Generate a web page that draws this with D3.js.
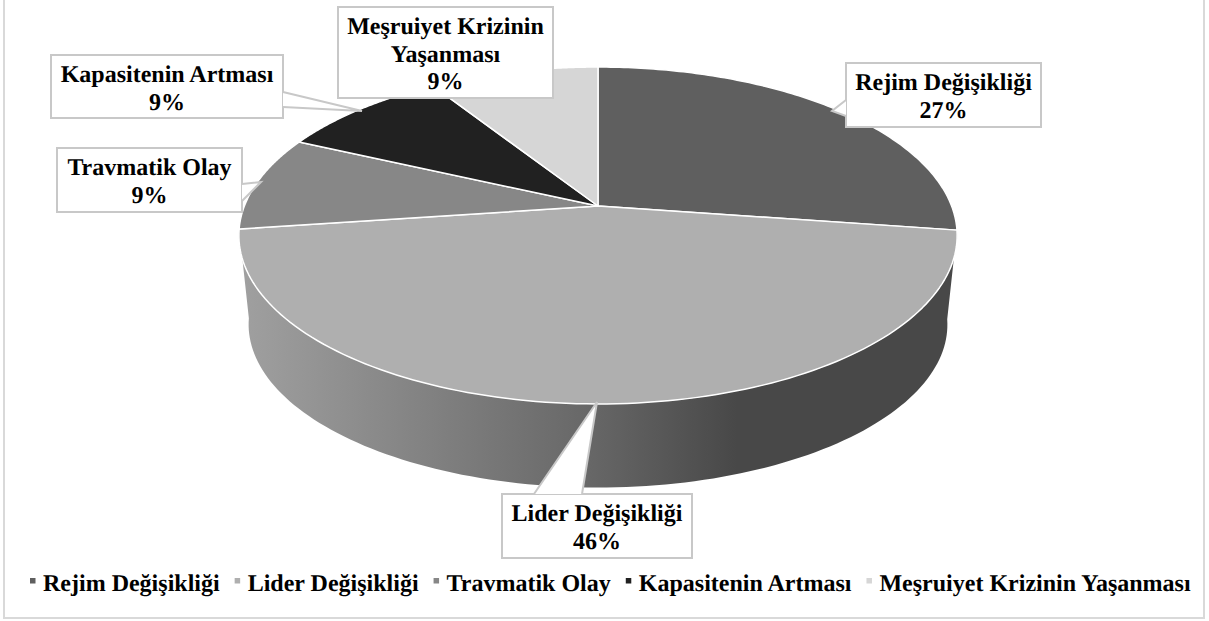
<!DOCTYPE html>
<html><head><meta charset="utf-8">
<script src="https://cdn.jsdelivr.net/npm/d3@7"></script>
<style>html,body{margin:0;padding:0;background:#fff;overflow:hidden}
text{font-family:"Liberation Serif",serif;font-weight:700;fill:#000;text-rendering:geometricPrecision}</style></head>
<body><svg id="c" width="1209" height="621"></svg>
<script>
const categories = ["Rejim Değişikliği","Lider Değişikliği","Travmatik Olay","Kapasitenin Artması","Meşruiyet Krizinin Yaşanması"];
const values = [27.3,45.5,9.1,9.1,9.0];
const colors = ["#5f5f5f","#afafaf","#878787","#212121","#d6d6d6"];
const labelLines = [["Rejim Değişikliği"],["Lider Değişikliği"],["Travmatik Olay"],["Kapasitenin Artması"],["Meşruiyet Krizinin","Yaşanması"]];
// callout layout: box x,y,w,h ; tail polygon ; first baseline
const callouts = [
 {box:[846,63,195,64],tail:[[846,100],[832,111],[846,116]],base:90},
 {box:[502,494,190,64],tail:[[534,494],[597,402],[582,494]],base:521},
 {box:[57,148,185,64],tail:[[242,184],[261,182],[242,201]],base:175},
 {box:[51,55,232,63],tail:[[283,92],[362,111],[283,107]],base:82},
 {box:[338,7,215,91],tail:null,base:34}
];
const svg = d3.select("#c");
const defs = svg.append("defs");
const grad = defs.append("linearGradient").attr("id","wall").attr("gradientUnits","userSpaceOnUse")
  .attr("x1",240).attr("x2",960).attr("y1",0).attr("y2",0);
[[0,"#a0a0a0"],[0.479,"#686868"],[0.69,"#484848"],[1,"#484848"]].forEach(s=>grad.append("stop").attr("offset",s[0]).attr("stop-color",s[1]));

svg.append("rect").attr("x",4).attr("y",-6).attr("width",1200).attr("height",624)
  .attr("fill","#fff").attr("stroke","#d9d9d9").attr("stroke-width",2);

// perspective projection of the pie disc
const K=0.175, CX=598;
function proj(a,R,Ry,Y0){const u=Math.sin(a),v=-Math.cos(a),w=1-K*v;return [CX+R*u/w,Y0+Ry*v/w];}
const top_=a=>proj(a,353.6,163.3,206);
const bot_=a=>proj(a,344,158,296);
const line=d3.line();
const pie=d3.pie().sort(null).startAngle(0).endAngle(2*Math.PI);
const arcs=pie(values);
const samp=(a0,a1)=>d3.range(0,121).map(i=>a0+(a1-a0)*i/120);

// side wall (only the front-facing slice shows)
const L=arcs[1];
const wallA=samp(L.startAngle,L.endAngle);
svg.append("path").attr("d",line(wallA.map(bot_).concat(wallA.slice().reverse().map(top_)))+"Z").attr("fill","url(#wall)");

// top face
svg.selectAll("path.slice").data(arcs).join("path").attr("class","slice")
  .attr("d",d=>line([[CX,206]].concat(samp(d.startAngle,d.endAngle).map(top_)))+"Z")
  .attr("fill",(d,i)=>colors[i]).attr("stroke","#fff").attr("stroke-width",1.5).attr("stroke-linejoin","round");

// callouts
const FS=24, LH=27.5;
callouts.forEach((c,i)=>{
  const [x,y,w,h]=c.box;
  const g=svg.append("g");
  g.append("rect").attr("x",x).attr("y",y).attr("width",w).attr("height",h).attr("fill","#fff").attr("stroke","#c8c8c8").attr("stroke-width",2);
  if(c.tail){
    g.append("path").attr("d",line(c.tail)+"Z").attr("fill","#fff").attr("stroke","none");
    g.append("path").attr("d",line(c.tail)).attr("fill","none").attr("stroke","#c8c8c8").attr("stroke-width",2);
  }
  const lines=labelLines[i].concat([Math.round(values[i])+"%"]);
  lines.forEach((t,j)=>g.append("text").attr("x",x+w/2).attr("y",c.base+j*LH).attr("text-anchor","middle").attr("font-size",FS).text(t));
});

// legend
let lx=43;
categories.forEach((t,i)=>{
  svg.append("rect").attr("x",lx-13).attr("y",578).attr("width",5.5).attr("height",5.5).attr("fill",colors[i]);
  const n=svg.append("text").attr("x",lx).attr("y",591).attr("font-size",24).text(t);
  lx+=n.node().getComputedTextLength()+28;
});
</script></body></html>
